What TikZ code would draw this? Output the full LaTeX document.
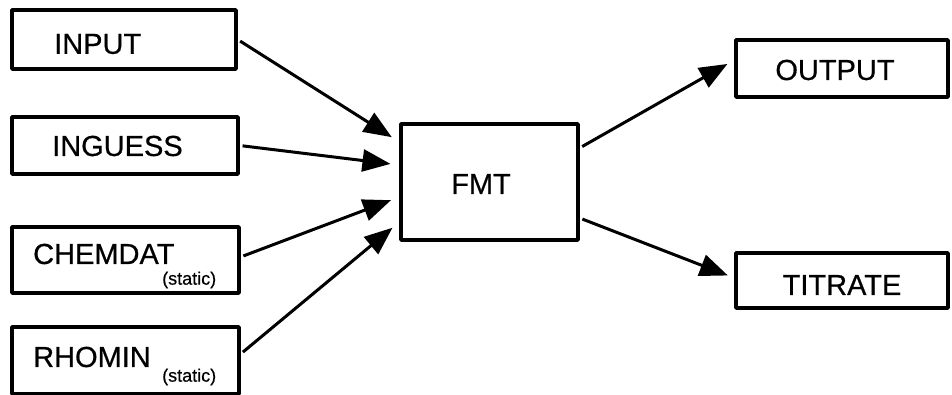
\documentclass[tikz,border=0pt]{standalone}
\usepackage{fontspec}
\setmainfont[FakeBold=0.6]{Liberation Sans}
\usetikzlibrary{arrows.meta}
\begin{document}
\begin{tikzpicture}[>={Triangle[length=28bp,width=22bp]},line join=bevel,
  box/.style={draw,line width=3.2bp,inner sep=0pt},
  lbl/.style={inner sep=0pt,font=\fontsize{29bp}{34bp}\selectfont},
  sml/.style={inner sep=0pt,font=\fontsize{18bp}{20bp}\selectfont},
  flow/.style={line width=3bp,->,shorten <=3bp}]
%%
\useasboundingbox (0bp,0bp) rectangle (952bp,395bp);
\node (node_input) at (124bp,355.5bp) [box,minimum width=224bp,minimum height=59bp] {};
  \node (node_inguess) at (125bp,249.5bp) [box,minimum width=226bp,minimum height=57bp] {};
  \node (node_chemdat) at (125.5bp,135bp) [box,minimum width=227bp,minimum height=66bp] {};
  \node (node_rhomin) at (125.5bp,34.5bp) [box,minimum width=227bp,minimum height=67bp] {};
  \node (node_fmt) at (489.5bp,213bp) [box,minimum width=177bp,minimum height=116bp] {};
  \node (node_output) at (842bp,326.5bp) [box,minimum width=212bp,minimum height=57bp] {};
  \node (node_titrate) at (842bp,114.5bp) [box,minimum width=212bp,minimum height=55bp] {};
%
  \node (text_input) at (54bp,351bp) [lbl,anchor=west] {INPUT};
  \node (text_inguess) at (52bp,249bp) [lbl,anchor=west] {INGUESS};
  \node (text_chemdat) at (33bp,141bp) [lbl,anchor=west] {CHEMDAT};
  \node (static_chemdat) at (162bp,115bp) [sml,anchor=west] {(static)};
  \node (text_rhomin) at (33bp,38bp) [lbl,anchor=west] {RHOMIN};
  \node (static_rhomin) at (162bp,18bp) [sml,anchor=west] {(static)};
  \node (text_fmt) at (481bp,211bp) [lbl] {FMT};
  \node (text_output) at (835bp,325bp) [lbl] {OUTPUT};
  \node (text_titrate) at (842bp,110bp) [lbl] {TITRATE};
%
  \draw [flow,shorten >=9bp] (node_input.east) -- ([yshift=40bp]node_fmt.west);
  \draw [flow,shorten >=9bp] (node_inguess.east) -- ([yshift=17bp]node_fmt.west);
  \draw [flow,shorten >=9bp] ([yshift=3bp]node_chemdat.east) -- ([yshift=-15bp]node_fmt.west);
  \draw [flow,shorten >=9bp] ([yshift=6.5bp]node_rhomin.east) -- ([yshift=-40bp]node_fmt.west);
  \draw [flow,shorten >=8bp] ([yshift=34bp]node_fmt.east) -- ([yshift=8.5bp]node_output.west);
  \draw [flow,shorten >=7bp] ([yshift=-36bp]node_fmt.east) -- ([yshift=2.5bp]node_titrate.west);
%
\end{tikzpicture}
\end{document}
